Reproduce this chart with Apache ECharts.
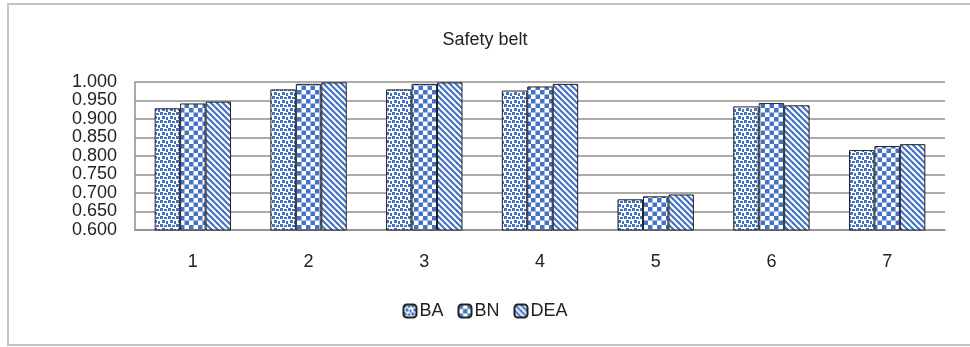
<!DOCTYPE html>
<html>
<head>
<meta charset="utf-8">
<script src="https://cdn.jsdelivr.net/npm/echarts@6/dist/echarts.min.js"></script>
<style>
html,body{margin:0;padding:0;background:#fff;}
#chart{width:970px;height:347px;}
</style>
</head>
<body>
<div id="chart"></div>
<script>
const categories = ['1','2','3','4','5','6','7'];
const seriesNames = ['BA','BN','DEA'];
const baValues  = [0.929, 0.980, 0.980, 0.977, 0.683, 0.934, 0.816];
const bnValues  = [0.942, 0.995, 0.995, 0.988, 0.691, 0.943, 0.827];
const deaValues = [0.947, 0.999, 0.999, 0.995, 0.696, 0.937, 0.832];
const yTickLabels = ['0.600','0.650','0.700','0.750','0.800','0.850','0.900','0.950','1.000'];

const BLUE = '#4472C4';
function tile(size, draw){
  const c = document.createElement('canvas');
  c.width = size; c.height = size;
  const g = c.getContext('2d');
  g.fillStyle = '#fff'; g.fillRect(0,0,size,size);
  g.fillStyle = BLUE; g.strokeStyle = BLUE;
  draw(g);
  return c;
}
const dotsTile = tile(8, g=>{
  g.fillRect(0,0,3,3); g.fillRect(4,1,3,2);
  g.fillRect(2,4,3,3); g.fillRect(6,5,2,3);
});
const checkTile = tile(9, g=>{
  g.fillRect(0,0,4.5,4.5); g.fillRect(4.5,4.5,4.5,4.5);
});
const stripeTile = tile(6, g=>{
  g.lineWidth = 2.2;
  for (let k=-2;k<=2;k++){
    g.beginPath(); g.moveTo(k*6-3, -3); g.lineTo(k*6+9, 9); g.stroke();
  }
});
const patterns = [dotsTile, checkTile, stripeTile];
const allValues = [baValues, bnValues, deaValues];

const chart = echarts.init(document.getElementById('chart'), null, {renderer:'canvas'});
const FONT = 'Liberation Sans, Arial, sans-serif';
chart.setOption({
  animation:false,
  backgroundColor:'#fff',
  graphic:[{type:'rect', shape:{x:8,y:4,width:980,height:341}, style:{fill:'none', stroke:'#c4c4c4', lineWidth:2}, silent:true, z:-1}],
  title:{text:'Safety belt', left:'center', top:26, textStyle:{fontFamily:FONT, fontSize:18, fontWeight:'normal', color:'#222'}},
  legend:{bottom:22, left:'center', itemWidth:13, itemHeight:13, itemGap:14,
    textStyle:{fontFamily:FONT, fontSize:18, color:'#222', padding:[0,0,0,-2]}, data:seriesNames},
  grid:{left:135, right:25, top:82, bottom:117},
  xAxis:{type:'category', data:categories,
    axisLine:{show:true, lineStyle:{color:'#8f8f8f', width:1.5}},
    axisTick:{show:false},
    axisLabel:{fontFamily:FONT, fontSize:18, color:'#222', margin:23}},
  yAxis:{type:'value', min:0.6, max:1.0, interval:0.05,
    axisLine:{show:true, lineStyle:{color:'#8f8f8f', width:1.5}},
    axisTick:{show:false},
    splitLine:{lineStyle:{color:'#8f8f8f', width:1.5}},
    axisLabel:{fontFamily:FONT, fontSize:18, color:'#222', margin:18,
      formatter:(v)=>yTickLabels[Math.round((v-0.6)/0.05)]}},
  series: seriesNames.map((n,i)=>({
    name:n, type:'bar', data:allValues[i], barGap:'0%', barCategoryGap:'34%',
    itemStyle:{color:{image:patterns[i], repeat:'repeat'}, borderColor:'#222', borderWidth:1}
  }))
});
</script>
</body>
</html>
